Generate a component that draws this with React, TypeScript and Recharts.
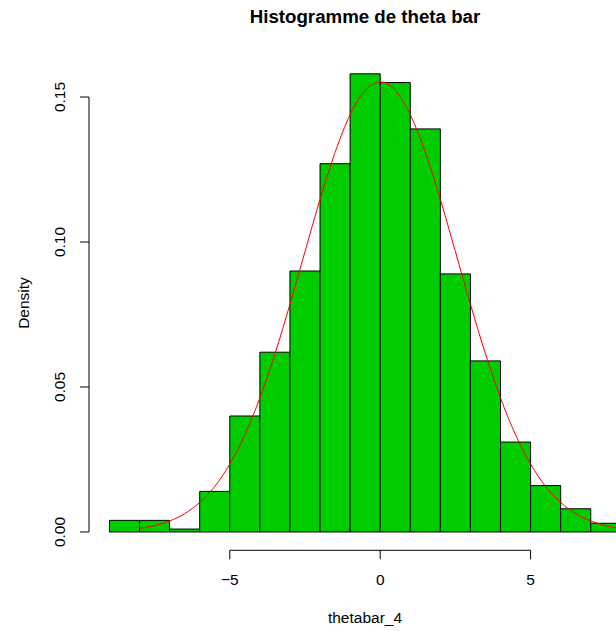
import React from 'react'
import { ComposedChart, Line, XAxis, YAxis, ReferenceArea, ReferenceLine } from 'recharts'

// histogram bins (width 1), densities
const binStarts = [-9, -8, -7, -6, -5, -4, -3, -2, -1, 0, 1, 2, 3, 4, 5, 6, 7]
const densities = [0.004, 0.004, 0.001, 0.014, 0.04, 0.062, 0.09, 0.127, 0.158, 0.155, 0.139, 0.089, 0.059, 0.031, 0.016, 0.008, 0.003]

const curveX = [-8, -7.5, -7, -6.5, -6, -5.5, -5, -4.5, -4, -3.5, -3, -2.5, -2, -1.5, -1, -0.5, 0, 0.5, 1, 1.5, 2, 2.5, 3, 3.5, 4, 4.5, 5, 5.5, 6, 6.5, 7, 7.5, 8, 8.5]
const curveY = [0.0012, 0.0022, 0.0038, 0.0063, 0.0102, 0.0157, 0.0234, 0.0335, 0.0462, 0.0614, 0.0785, 0.0967, 0.1147, 0.1309, 0.1439, 0.1523, 0.1552, 0.1523, 0.1439, 0.1309, 0.1147, 0.0967, 0.0785, 0.0614, 0.0462, 0.0335, 0.0234, 0.0157, 0.0102, 0.0063, 0.0038, 0.0022, 0.0012, 0.0007]

const xTicks = [-5, 0, 5]
const yTicks = [0, 0.05, 0.1, 0.15]

const X_MIN = -9.68
const X_MAX = 8.68
const Y_MIN = -0.00632
const Y_MAX = 0.16432

const FONT = "'Liberation Sans', Arial, Helvetica, sans-serif"
const FS = 15.5

const curveData = curveX.map((x, i) => ({ x, y: curveY[i] }))

const XTick = ({ x, payload }: any) => (
  <text x={x} y={585} textAnchor="middle" fontSize={FS} fontFamily={FONT} fill="#000">
    {payload.value < 0 ? '\u2212' + Math.abs(payload.value) : String(payload.value)}
  </text>
)

const YTick = ({ y, payload }: any) => (
  <text
    x={65}
    y={y}
    transform={`rotate(-90 65 ${y})`}
    textAnchor="middle"
    fontSize={FS}
    fontFamily={FONT}
    fill="#000"
  >
    {Number(payload.value).toFixed(2)}
  </text>
)

export default function App() {
  return (
    <div style={{ position: 'absolute', left: 0, top: 0, width: 616, height: 631, overflow: 'hidden', background: '#fff' }}>
      <ComposedChart
        width={680}
        height={631}
        data={curveData}
        margin={{ top: 55.5, right: 38.7, left: 29, bottom: 50.7 }}
      >
        <XAxis
          dataKey="x"
          type="number"
          domain={[X_MIN, X_MAX]}
          allowDataOverflow
          ticks={xTicks}
          axisLine={false}
          tickLine={{ stroke: '#000' }}
          tickSize={9}
          height={30}
          tick={<XTick />}
        />
        <YAxis
          type="number"
          domain={[Y_MIN, Y_MAX]}
          allowDataOverflow
          ticks={yTicks}
          axisLine={false}
          tickLine={{ stroke: '#000' }}
          tickSize={9}
          width={60}
          tick={<YTick />}
        />
        {binStarts.map((b, i) => (
          <ReferenceArea
            key={b}
            x1={b}
            x2={b + 1}
            y1={0}
            y2={densities[i]}
            fill="#00CD00"
            fillOpacity={1}
            stroke="#000"
            strokeWidth={1}
            ifOverflow="visible"
          />
        ))}
        <ReferenceLine
          segment={[{ x: -5, y: Y_MIN }, { x: 5, y: Y_MIN }]}
          stroke="#000"
          ifOverflow="visible"
        />
        <ReferenceLine
          segment={[{ x: X_MIN, y: 0 }, { x: X_MIN, y: 0.15 }]}
          stroke="#000"
          ifOverflow="visible"
        />
        <Line
          type="monotone"
          dataKey="y"
          stroke="#FF0000"
          strokeWidth={1}
          dot={false}
          isAnimationActive={false}
        />
      </ComposedChart>
      <svg width={616} height={631} style={{ position: 'absolute', left: 0, top: 0, pointerEvents: 'none' }}>
        <text x={365} y={23} textAnchor="middle" fontSize={18.7} fontWeight="bold" fontFamily={FONT} fill="#000">
          Histogramme de theta bar
        </text>
        <text x={365} y={623} textAnchor="middle" fontSize={FS} fontFamily={FONT} fill="#000">
          thetabar_4
        </text>
        <text x={29} y={303} transform="rotate(-90 29 303)" textAnchor="middle" fontSize={FS} fontFamily={FONT} fill="#000">
          Density
        </text>
      </svg>
    </div>
  )
}
